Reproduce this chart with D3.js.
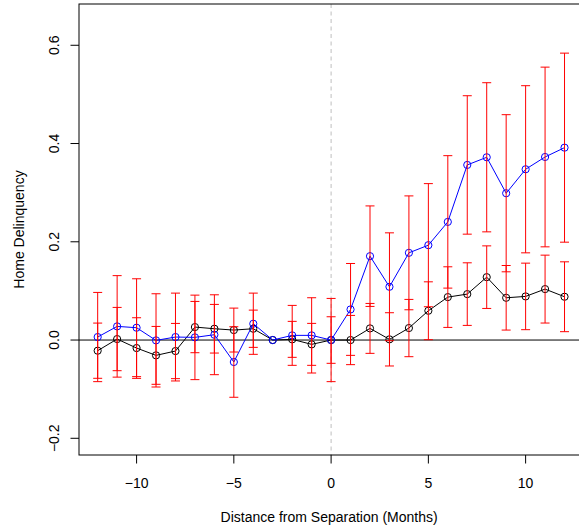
<!DOCTYPE html>
<html>
<head>
<meta charset="utf-8">
<script src="https://cdn.jsdelivr.net/npm/d3@7"></script>
<style>
  html, body { margin: 0; padding: 0; background: #fff; }
  svg { display: block; }
  text { font-family: "Liberation Sans", Arial, Helvetica, sans-serif; }
</style>
</head>
<body>
<svg id="chart" width="579" height="531"></svg>
<script>
// ---- data ----
const months = [-12,-11,-10,-9,-8,-7,-6,-5,-4,-3,-2,-1,0,1,2,3,4,5,6,7,8,9,10,11,12];
const blueValues = [0.0061,0.0278,0.0251,-0.0007,0.0061,0.0054,0.0108,-0.0447,0.0332,0.0000,0.0095,0.0095,0.0000,
                    0.0623,0.1707,0.1084,0.1775,0.1931,0.2405,0.3564,0.3720,0.2988,0.3476,0.3726,0.3916];
const blueHalfCI = [0.0908,0.1033,0.0996,0.0949,0.0894,0.0860,0.0813,0.0718,0.0623,0,0.0610,0.0766,0.0847,
                    0.0935,0.1023,0.1098,0.1159,0.1253,0.1348,0.1409,0.1518,0.1599,0.1701,0.1829,0.1924];
const blackValues = [-0.0217,0.0020,-0.0163,-0.0312,-0.0224,0.0264,0.0230,0.0203,0.0230,0.0000,0.0014,-0.0088,0.0000,
                     0.0000,0.0237,0.0014,0.0244,0.0596,0.0874,0.0935,0.1280,0.0860,0.0888,0.1037,0.0881];
const blackHalfCI = [0.0562,0.0644,0.0617,0.0589,0.0562,0.0522,0.0495,0.0447,0.0379,0,0.0366,0.0427,0.0474,
                     0.0501,0.0508,0.0542,0.0583,0.0589,0.0617,0.0637,0.0637,0.0657,0.0677,0.0691,0.0711];
const xTicks = [-10,-5,0,5,10];
const yTicks = [-0.2,0,0.2,0.4,0.6];
const xLabel = "Distance from Separation (Months)";
const yLabel = "Home Delinquency";

// ---- layout ----
const plotLeft = 79, plotTop = 4, plotBottom = 455;
const xlim = [-12, 12], ylim = [-0.2, 0.65];
const xExt = (xlim[1]-xlim[0])*0.04, yExt = (ylim[1]-ylim[0])*0.04;
const plotRight = 583.2;

const x = d3.scaleLinear().domain([xlim[0]-xExt, xlim[1]+xExt]).range([plotLeft, plotRight]);
const y = d3.scaleLinear().domain([ylim[0]-yExt, ylim[1]+yExt]).range([plotBottom, plotTop]);

const svg = d3.select("#chart");
const fmtX = d => d < 0 ? "\u2212" + Math.abs(d) : String(d);
const fmtY = d => (d < 0 ? "\u2212" : "") + Math.abs(d).toFixed(1);

// reference lines
svg.append("line")
  .attr("x1", x(0)).attr("x2", x(0)).attr("y1", plotTop).attr("y2", plotBottom)
  .attr("stroke", "#bebebe").attr("stroke-width", 1).attr("stroke-dasharray", "4,3.5");
svg.append("line")
  .attr("x1", plotLeft).attr("x2", plotRight).attr("y1", y(0)).attr("y2", y(0))
  .attr("stroke", "#000").attr("stroke-width", 1);

// series
function drawSeries(vals, color) {
  const pts = months.map((m, i) => ({m, v: vals[i]}));
  svg.append("path")
    .datum(pts)
    .attr("fill", "none").attr("stroke", color).attr("stroke-width", 1)
    .attr("d", d3.line().x(d => x(d.m)).y(d => y(d.v)));
  svg.append("g").selectAll("circle").data(pts).join("circle")
    .attr("cx", d => x(d.m)).attr("cy", d => y(d.v)).attr("r", 3.6)
    .attr("fill", "none").attr("stroke", color).attr("stroke-width", 1);
}
drawSeries(blackValues, "#000");
drawSeries(blueValues, "#0000ff");

// error bars
function drawBars(vals, halves) {
  const bars = months.map((m, i) => ({m, v: vals[i], h: halves[i]})).filter(d => d.h > 0);
  const g = svg.append("g").attr("stroke", "#ff0000").attr("stroke-width", 1).attr("fill", "none");
  const cap = 4.5;
  g.selectAll("path").data(bars).join("path")
    .attr("d", d => {
      const cx = x(d.m), y1 = y(d.v - d.h), y2 = y(d.v + d.h);
      return `M${cx},${y1}V${y2}M${cx-cap},${y1}H${cx+cap}M${cx-cap},${y2}H${cx+cap}`;
    });
}
drawBars(blueValues, blueHalfCI);
drawBars(blackValues, blackHalfCI);

// plot box (right side falls outside the picture)
svg.append("rect")
  .attr("x", plotLeft).attr("y", plotTop)
  .attr("width", plotRight - plotLeft).attr("height", plotBottom - plotTop)
  .attr("fill", "none").attr("stroke", "#000").attr("stroke-width", 1);

// x axis
const xa = svg.append("g");
xa.selectAll("line").data(xTicks).join("line")
  .attr("x1", d => x(d)).attr("x2", d => x(d)).attr("y1", plotBottom).attr("y2", plotBottom + 8.5)
  .attr("stroke", "#000").attr("stroke-width", 1);
xa.selectAll("text").data(xTicks).join("text")
  .attr("x", d => x(d)).attr("y", 488).attr("text-anchor", "middle")
  .attr("font-size", 14).attr("fill", "#000").text(fmtX);

// y axis
const ya = svg.append("g");
ya.selectAll("line").data(yTicks).join("line")
  .attr("x1", plotLeft - 8.5).attr("x2", plotLeft).attr("y1", d => y(d)).attr("y2", d => y(d))
  .attr("stroke", "#000").attr("stroke-width", 1);
ya.selectAll("text").data(yTicks).join("text")
  .attr("transform", d => `translate(58.5,${y(d)}) rotate(-90)`)
  .attr("text-anchor", "middle").attr("font-size", 14).attr("fill", "#000").text(fmtY);

// axis titles
svg.append("text")
  .attr("x", (plotLeft + plotRight) / 2 - 2).attr("y", 522).attr("text-anchor", "middle")
  .attr("font-size", 14).attr("fill", "#000").text(xLabel);
svg.append("text")
  .attr("transform", `translate(23.5,${(plotTop + plotBottom) / 2}) rotate(-90)`)
  .attr("text-anchor", "middle").attr("font-size", 14).attr("fill", "#000").text(yLabel);
</script>
</body>
</html>
